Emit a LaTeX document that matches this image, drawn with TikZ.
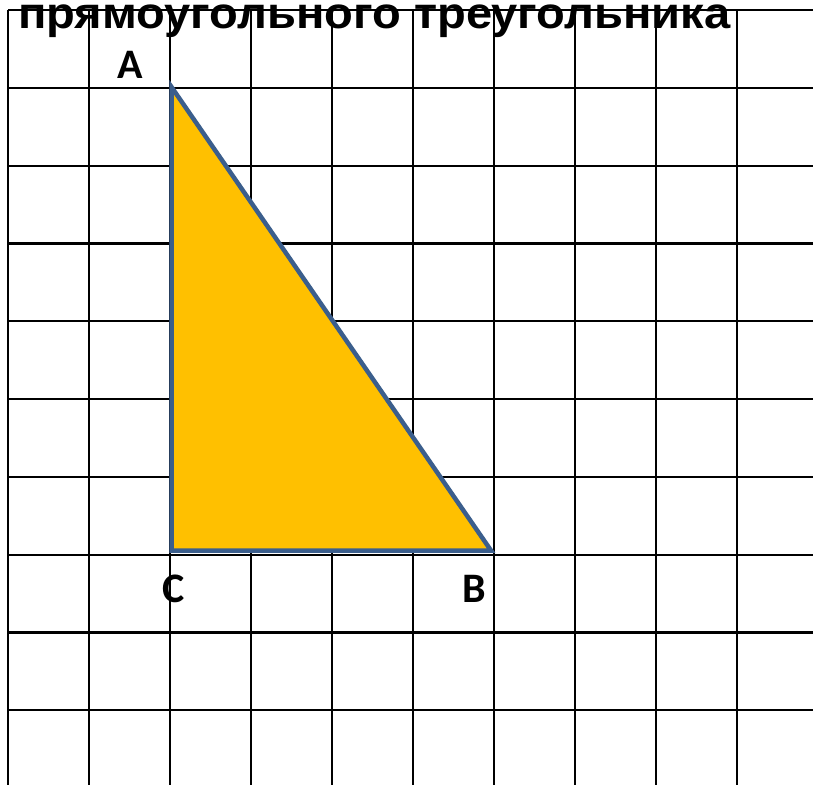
\documentclass[tikz,border=0pt]{standalone}
\usepackage{fontspec}
\setmainfont{Liberation Sans}
\newfontfamily\labelfont{Carlito}
\definecolor{triFill}{HTML}{FFC000}
\definecolor{triLine}{HTML}{3B5E8C}
\begin{document}
\begin{tikzpicture}[x=1pt,y=-1pt,
  gridline/.style={black,line width=2.2pt},
  vlabel/.style={font=\labelfont\bfseries\fontsize{42}{42}\selectfont,anchor=base,inner sep=0pt},
  titletext/.style={font=\bfseries\fontsize{44}{44}\selectfont,anchor=base west,inner sep=0pt,xscale=1.07}]
\useasboundingbox (0,0) rectangle (813,785);
\fill[white] (0,0) rectangle (813,785);
% grid
\foreach \k in {0,...,9}{
  \draw[gridline] ({8+81*\k},10) -- ({8+81*\k},785);
  \draw[gridline] (8,{10+77.8*\k}) -- (813,{10+77.8*\k});
}
% triangle
\coordinate (A) at (171.5,87);
\coordinate (C) at (171.5,550.5);
\coordinate (B) at (491,550.5);
\draw[triLine,fill=triFill,line width=4.5pt,line join=miter] (A) -- (C) -- (B) -- cycle;
% labels
\node[vlabel] (la) at (130,78) {A};
\node[vlabel] (lc) at (174,602) {C};
\node[vlabel] (lb) at (474.5,602) {B};
% title
\node[titletext] (title) at (18,28) {прямоугольного треугольника};
\end{tikzpicture}
\end{document}
